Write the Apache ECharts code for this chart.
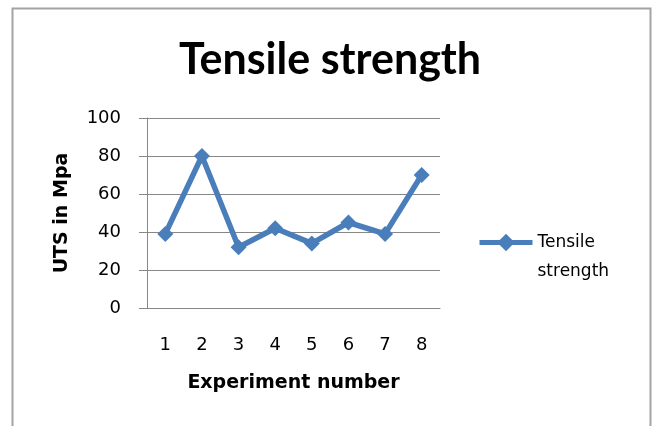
<!DOCTYPE html>
<html>
<head>
<meta charset="utf-8">
<style>
  html, body { margin: 0; padding: 0; background: #fff; }
  #chart { width: 653px; height: 426px; }
</style>
<script src="https://cdn.jsdelivr.net/npm/echarts@6/dist/echarts.min.js"></script>
</head>
<body>
<div id="chart"></div>
<script>
// Experiment numbers along the x axis
const experiments = ['1', '2', '3', '4', '5', '6', '7', '8'];
// Ultimate tensile strength for each experiment (MPa)
const tensileStrength = [39, 80, 32, 42, 34, 45, 39, 70];
// Value axis ticks
const yTicks = [0, 20, 40, 60, 80, 100];

const lineBlue = '#4A7EBB';
const gridGray = '#878787';

const chart = echarts.init(document.getElementById('chart'), null, { renderer: 'canvas' });

chart.setOption({
  backgroundColor: '#ffffff',
  animation: false,
  graphic: [{
    type: 'rect',
    shape: { x: 12.5, y: 8.5, width: 638, height: 440 },
    style: { fill: 'none', stroke: '#a3a3a3', lineWidth: 2 },
    silent: true
  }],
  title: {
    text: 'Tensile strength',
    left: 325,
    textAlign: 'center',
    top: 34,
    textStyle: { fontFamily: 'Lato', fontWeight: 'bold', fontSize: 43, color: '#000' }
  },
  legend: {
    data: ['Tensile strength'],
    left: 477,
    top: 199,
    padding: 0,
    itemWidth: 53,
    itemHeight: 22,
    // a blank first line keeps "Tensile" level with the legend marker
    formatter: name => ' \n' + name.replace(' ', '\n'),
    lineStyle: { width: 5, color: lineBlue },
    itemStyle: { color: lineBlue },
    textStyle: {
      fontFamily: 'DejaVu Sans', fontSize: 17, color: '#000', lineHeight: 29
    }
  },
  grid: { left: 147, right: 213, top: 118, bottom: 118, containLabel: false },
  xAxis: {
    type: 'category',
    data: experiments,
    boundaryGap: true,
    name: 'Experiment number',
    nameLocation: 'middle',
    nameGap: 66,
    nameTextStyle: { fontFamily: 'DejaVu Sans', fontWeight: 'bold', fontSize: 19, color: '#000' },
    axisLine: { show: true, lineStyle: { color: gridGray, width: 1 } },
    axisTick: { show: false },
    axisLabel: { margin: 28, fontFamily: 'DejaVu Sans', fontSize: 18, color: '#000' }
  },
  yAxis: {
    type: 'value',
    min: yTicks[0],
    max: yTicks[yTicks.length - 1],
    interval: yTicks[1] - yTicks[0],
    name: 'UTS in Mpa',
    nameLocation: 'middle',
    nameRotate: 90,
    nameGap: 75,
    nameTextStyle: { fontFamily: 'DejaVu Sans', fontWeight: 'bold', fontSize: 19, color: '#000' },
    axisLine: { show: true, lineStyle: { color: gridGray, width: 1 } },
    axisTick: { show: true, length: 8, inside: false, lineStyle: { color: gridGray, width: 1 } },
    splitLine: { show: true, lineStyle: { color: gridGray, width: 1 } },
    axisLabel: { margin: 26, fontFamily: 'DejaVu Sans', fontSize: 18, color: '#000' }
  },
  series: [{
    name: 'Tensile strength',
    type: 'line',
    data: tensileStrength,
    symbol: 'diamond',
    symbolSize: 16,
    lineStyle: { color: lineBlue, width: 5.5 },
    itemStyle: { color: lineBlue },
    z: 3
  }]
});
</script>
</body>
</html>
